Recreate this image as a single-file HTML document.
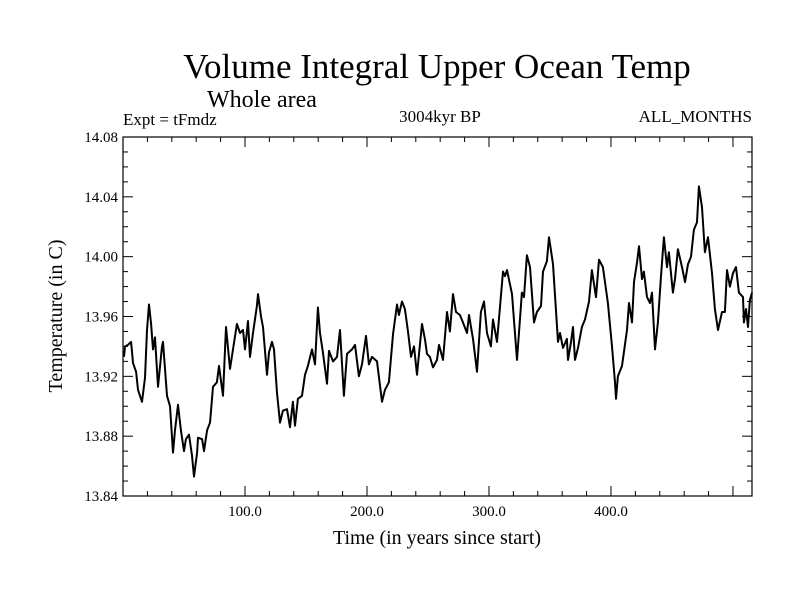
<!DOCTYPE html>
<html><head><meta charset="utf-8">
<style>
html,body{margin:0;padding:0;background:#fff;}
svg{display:block;font-family:"Liberation Serif",serif;}
</style></head>
<body>
<svg id="chart" width="800" height="600" viewBox="0 0 800 600" xmlns="http://www.w3.org/2000/svg">
<rect width="800" height="600" fill="#fff"/>
<text x="437" y="78" font-size="35" text-anchor="middle">Volume Integral Upper Ocean Temp</text>
<text x="207" y="107" font-size="24">Whole area</text>
<text x="123" y="125" font-size="17">Expt = tFmdz</text>
<text x="440" y="122" font-size="17" text-anchor="middle">3004kyr BP</text>
<text x="752" y="122" font-size="17" text-anchor="end">ALL_MONTHS</text>
<text transform="translate(62,316) rotate(-90)" font-size="20" text-anchor="middle">Temperature (in C)</text>
<text x="437" y="544" font-size="20" text-anchor="middle">Time (in years since start)</text>
<g id="axes"></g>
<g id="plot"></g>
</svg>
<script>
const years = [0.8,1.6,4.1,6.6,8.2,10.7,12.3,15.6,18.0,19.7,21.3,23.0,24.6,26.2,28.7,32.0,32.8,36.1,38.5,41.0,42.6,45.1,47.5,50.0,51.6,54.1,56.6,58.2,60.7,61.5,64.8,66.4,68.9,71.3,73.8,77.0,78.7,82.0,84.4,87.7,90.2,93.4,95.9,98.4,100.0,102.5,104.1,106.6,109.8,110.7,113.1,114.8,118.0,119.7,122.1,123.8,126.2,128.7,
131.1,134.4,136.9,139.3,141.0,143.4,146.7,149.2,151.6,154.9,157.4,159.8,161.5,163.9,167.2,168.9,172.1,175.4,177.9,181.1,183.6,187.7,190.2,193.4,195.9,199.2,201.6,204.1,208.2,212.3,214.8,218.0,221.3,224.6,226.2,228.7,231.1,233.6,236.1,238.5,241.0,242.6,245.1,247.5,249.2,251.6,254.1,257.4,259.0,
262.3,265.6,268.0,270.5,273.0,276.2,278.7,282.0,283.6,286.9,290.2,293.4,295.9,298.4,301.6,303.3,306.6,311.5,313.1,314.8,318.9,323.0,327.0,328.7,331.1,333.6,336.9,339.3,342.6,344.3,347.5,349.2,352.5,356.6,358.2,360.7,363.9,364.8,367.2,368.9,370.5,373.0,376.2,378.7,382.0,384.4,387.7,390.2,
393.4,397.5,400.8,403.3,404.1,405.7,409.0,413.1,414.8,417.2,418.9,421.3,423.0,425.4,427.0,429.5,432.0,433.6,436.1,438.5,441.0,443.4,445.9,447.5,450.8,452.5,454.9,458.2,460.7,463.1,465.6,468.0,470.5,472.1,474.6,477.0,479.5,482.8,485.2,487.7,491.0,493.4,495.1,497.5,500.0,502.5,504.9,508.2,509.0,510.7,512.3,513.9,515.6];
const temps = [13.933,13.940,13.941,13.943,13.929,13.923,13.911,13.903,13.919,13.951,13.968,13.955,13.938,13.946,13.913,13.940,13.943,13.907,13.900,13.869,13.884,13.901,13.884,13.870,13.878,13.881,13.867,13.853,13.869,13.879,13.878,13.870,13.884,13.889,13.913,13.916,13.927,13.907,13.953,13.925,13.938,13.955,13.949,13.951,13.938,13.957,13.933,13.949,13.967,13.975,13.960,13.953,13.921,13.936,13.943,13.938,13.909,13.889,
13.897,13.898,13.886,13.903,13.887,13.905,13.907,13.921,13.927,13.938,13.928,13.966,13.949,13.936,13.915,13.937,13.930,13.933,13.951,13.907,13.935,13.938,13.941,13.920,13.928,13.947,13.928,13.933,13.930,13.903,13.911,13.916,13.948,13.968,13.961,13.970,13.965,13.950,13.933,13.940,13.921,13.935,13.955,13.945,13.935,13.933,13.926,13.931,13.941,
13.931,13.963,13.950,13.975,13.963,13.961,13.956,13.949,13.961,13.945,13.923,13.963,13.970,13.949,13.940,13.958,13.943,13.990,13.987,13.991,13.975,13.931,13.976,13.973,14.001,13.993,13.956,13.963,13.967,13.990,13.997,14.013,13.995,13.943,13.949,13.939,13.945,13.931,13.943,13.953,13.931,13.939,13.953,13.958,13.970,13.991,13.973,13.998,
13.993,13.969,13.940,13.916,13.905,13.920,13.927,13.951,13.969,13.956,13.983,13.996,14.007,13.985,13.990,13.973,13.969,13.976,13.938,13.956,13.987,14.013,13.993,14.003,13.976,13.985,14.005,13.993,13.983,13.995,14.000,14.018,14.023,14.047,14.033,14.003,14.013,13.989,13.965,13.951,13.963,13.963,13.991,13.980,13.989,13.993,13.976,13.973,13.956,13.965,13.953,13.971,13.976];
const yTickValues = [13.84,13.88,13.92,13.96,14.00,14.04,14.08];
const yTickLabels = ["13.84","13.88","13.92","13.96","14.00","14.04","14.08"];
const xTickValues = [100,200,300,400];
const xTickLabels = ["100.0","200.0","300.0","400.0"];

const L=123,R=752,T=137,B=496;
const XMIN=0,XMAX=515.6,YMIN=13.84,YMAX=14.08;
function sx(v){return L+(v-XMIN)/(XMAX-XMIN)*(R-L);}
function sy(v){return B-(v-YMIN)/(YMAX-YMIN)*(B-T);}
const NS="http://www.w3.org/2000/svg";
const axes=document.getElementById('axes');
const plot=document.getElementById('plot');
function mk(tag,attrs,parent){const e=document.createElementNS(NS,tag);for(const k in attrs)e.setAttribute(k,attrs[k]);parent.appendChild(e);return e;}

const frame=mk('rect',{x:L,y:T,width:R-L,height:B-T,fill:'none',stroke:'#000','stroke-width':1.2},axes);



// y ticks: minor every 0.01
for(let i=0;i<=24;i++){
  const v=YMIN+i*0.01, y=sy(v), major=(i%4===0), len=major?10:5;
  const t1=mk('line',{x1:L,x2:L+len,y1:y,y2:y,stroke:'#000','stroke-width':1},axes);
  
  
  const t2=mk('line',{x1:R,x2:R-len,y1:y,y2:y,stroke:'#000','stroke-width':1},axes);
  
  
}
yTickValues.forEach((v,i)=>{
  const t=mk('text',{x:L-5,y:sy(v)+5,'font-size':15,'text-anchor':'end'},axes);
  t.textContent=yTickLabels[i];
  
  
});
// x ticks: minor every 20
for(let v=20;v<XMAX;v+=20){
  const x=sx(v), major=(v%100===0), len=major?10:5;
  const t1=mk('line',{x1:x,x2:x,y1:B,y2:B-len,stroke:'#000','stroke-width':1},axes);
  
  
  const t2=mk('line',{x1:x,x2:x,y1:T,y2:T+len,stroke:'#000','stroke-width':1},axes);
  
  
}
xTickValues.forEach((v,i)=>{
  const t=mk('text',{x:sx(v),y:B+20,'font-size':15,'text-anchor':'middle'},axes);
  t.textContent=xTickLabels[i];
  
  
});
const d=years.map((yr,i)=>(i?'L':'M')+sx(yr).toFixed(1)+','+sy(temps[i]).toFixed(1)).join('');
const line=mk('path',{d:d,fill:'none',stroke:'#000','stroke-width':2,'stroke-linejoin':'round'},plot);


</script>
</body></html>
